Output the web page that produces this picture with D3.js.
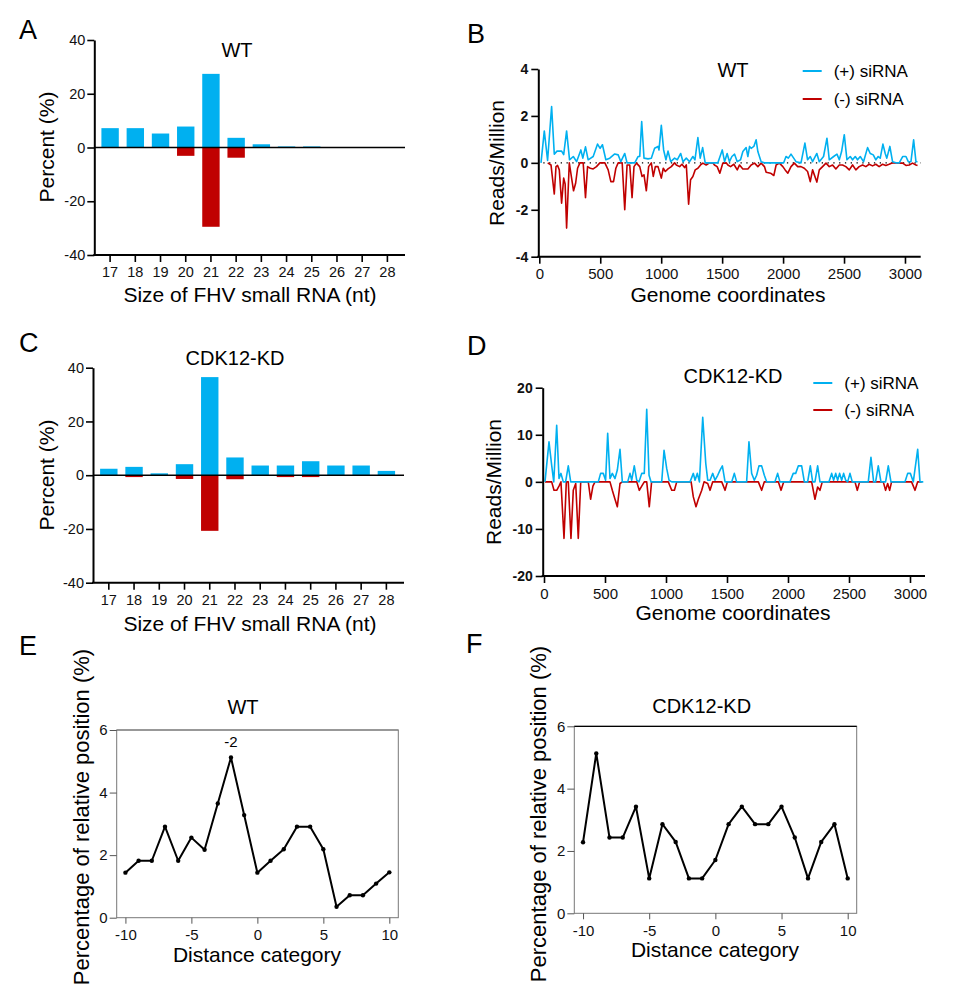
<!DOCTYPE html>
<html>
<head>
<meta charset="utf-8">
<script src="https://cdn.jsdelivr.net/npm/d3@7"></script>
<style>
  body { margin: 0; background: #fff; }
  svg { font-family: "Liberation Sans", Arial, Helvetica, sans-serif; }
</style>
</head>
<body>
<svg id="fig" width="973" height="1000"></svg>
<script>
// ---- data ----
const sizes = [17, 18, 19, 20, 21, 22, 23, 24, 25, 26, 27, 28];
const wtPlus = [7.2, 7.2, 5.2, 7.8, 27.4, 3.6, 1.2, 0.4, 0.4, 0, 0, 0];
const wtMinus = [0, 0, 0, -3.1, -29.5, -3.8, 0, 0, 0, 0, 0, 0];
const kdPlus = [2.4, 3.1, 0.7, 4.1, 36.5, 6.6, 3.6, 3.6, 5.2, 3.6, 3.6, 1.6];
const kdMinus = [0, -0.7, 0, -1.4, -20.7, -1.5, 0, -0.7, -0.7, 0, 0, 0];
const percentTicks = [-40, -20, 0, 20, 40];

// [genome coordinate, reads/million]
const wtCovPlus = [[14,0],[41,1.36],[68,0.1],[101,2.4],[123,0.37],[145,0.5],[183,0.5],[200,0.35],[224,1.36],[248,0.13],[279,0.27],[306,0.05],[341,0.55],[357,0.2],[379,0.68],[401,0.13],[442,0.27],[478,0.8],[499,0.62],[518,0.77],[546,0.13],[578,0.2],[619,0.38],[647,0.34],[669,0.05],[701,0.4],[720,0],[783,0],[810,0.27],[824,0.27],[840,1.76],[859,0.2],[892,0.17],[919,0.2],[946,0.62],[974,0.7],[982,0.55],[1001,1.6],[1020,0.55],[1039,0.13],[1056,0.5],[1078,0.05],[1110,0.2],[1132,0.13],[1160,0.4],[1179,0.05],[1206,0.2],[1233,0.05],[1260,0.27],[1277,0.13],[1301,1.08],[1320,0.2],[1340,0.65],[1361,0],[1465,0],[1501,0.55],[1520,0.05],[1541,0.4],[1560,0.05],[1580,0.27],[1602,0.37],[1624,0.05],[1651,0.13],[1670,0.48],[1697,0.65],[1711,0.27],[1725,0.7],[1738,0.62],[1760,0.7],[1779,0.98],[1793,0.48],[1820,0.05],[1847,0],[2005,0],[2024,0.27],[2043,0.2],[2065,0.37],[2087,0.2],[2106,0.05],[2147,0],[2179,0.84],[2201,0.13],[2223,0.27],[2242,0.05],[2277,0.4],[2297,0.05],[2332,0.27],[2360,1.05],[2379,0.13],[2415,0.27],[2442,0.37],[2461,0.13],[2480,0.48],[2502,1.2],[2524,0.13],[2551,0.27],[2570,0.13],[2592,0.27],[2611,0.13],[2633,0.27],[2660,0.05],[2693,0.65],[2715,0.4],[2740,0.34],[2761,0.13],[2780,0.27],[2797,0.2],[2819,0.8],[2838,0.4],[2851,0.2],[2876,0.7],[2898,0.05],[2925,0],[2953,0],[2981,0.27],[3008,0.27],[3027,0.05],[3049,0.05],[3071,0.98],[3090,0.05],[3103,0.05]];
const wtCovMinus = [[69,0],[96,-0.09],[123,-1.33],[137,-0.16],[150,-0.11],[164,-0.3],[183,-1.72],[200,-0.65],[212,-0.9],[224,-2.78],[246,0],[265,-0.65],[281,-1.19],[298,-0.87],[314,-0.23],[333,0],[360,0],[379,-1.48],[396,-0.16],[418,-0.23],[442,-0.26],[469,-0.16],[497,0],[538,0],[565,-0.3],[587,-0.8],[609,-0.8],[628,-0.23],[647,0],[680,0],[701,-2.0],[720,-0.09],[742,-0.09],[761,-1.48],[777,-0.16],[797,-0.01],[824,-0.16],[843,-0.58],[859,-0.51],[878,-1.19],[897,-0.16],[919,0],[935,-0.58],[952,-0.16],[974,-0.16],[1001,-0.65],[1017,-0.23],[1034,-0.37],[1056,-0.26],[1083,-0.16],[1110,0],[1124,-0.09],[1151,-0.16],[1170,-0.06],[1192,-0.2],[1206,-0.09],[1225,-1.76],[1241,-0.72],[1260,-0.58],[1279,-0.3],[1301,-0.23],[1323,-0.09],[1342,-0.01],[1369,-0.09],[1396,0],[1424,0],[1437,-0.09],[1459,-0.16],[1481,-0.44],[1506,-0.01],[1533,0],[1547,-0.09],[1569,-0.16],[1596,-0.06],[1624,-0.3],[1643,-0.09],[1670,-0.26],[1711,-0.26],[1738,-0.09],[1766,-0.01],[1793,-0.16],[1820,-0.01],[1847,-0.16],[1861,-0.4],[1897,-0.44],[1924,-0.54],[1943,-0.09],[1970,-0.01],[1998,-0.16],[2017,-0.3],[2039,-0.44],[2065,-0.16],[2092,-0.01],[2120,-0.16],[2147,-0.16],[2174,-0.23],[2201,-0.37],[2223,-0.8],[2242,-0.3],[2277,-0.82],[2297,-0.3],[2324,-0.16],[2352,-0.01],[2379,-0.16],[2406,-0.09],[2433,-0.26],[2461,-0.09],[2488,-0.09],[2515,-0.16],[2543,-0.3],[2570,-0.09],[2597,-0.3],[2624,-0.16],[2652,-0.09],[2679,-0.16],[2706,-0.06],[2734,-0.13],[2761,-0.06],[2788,-0.16],[2816,-0.06],[2843,-0.11],[2870,-0.06],[2898,0],[2981,-0.01],[3008,-0.11],[3035,-0.09],[3062,-0.01],[3090,-0.09],[3103,-0.11]];

const kdCovPlus = [[8,0],[41,8.5],[63,3.5],[80,0],[104,12.0],[123,0.7],[139,1.8],[158,0],[177,0],[199,3.4],[219,0],[445,0],[464,1.8],[486,1.8],[505,0.35],[522,10.3],[541,0.7],[560,1.8],[582,0.7],[601,2.5],[623,6.9],[642,0],[686,0],[705,1.8],[719,0.35],[740,3.4],[760,0.35],[779,0],[801,1.8],[822,1.8],[842,15.4],[861,1.4],[877,0],[965,0],[984,6.7],[1006,2.8],[1025,0.35],[1047,0],[1197,0],[1224,1.8],[1238,0.35],[1257,1.8],[1274,0],[1301,13.7],[1326,3.9],[1342,0.35],[1361,0.35],[1383,1.8],[1402,0.35],[1424,1.4],[1443,2.5],[1462,3.4],[1484,0],[1539,0],[1560,1.8],[1579,0],[1661,0],[1680,8.5],[1702,1.8],[1724,0.35],[1743,1.4],[1762,3.4],[1784,3.4],[1806,1.4],[1825,0],[1893,0],[1915,1.8],[1934,0],[2016,0],[2043,1.8],[2063,1.8],[2085,3.4],[2112,3.4],[2134,0],[2161,0],[2183,3.4],[2202,0],[2221,0],[2243,3.4],[2262,0],[2336,0],[2358,1.8],[2374,0.35],[2391,1.8],[2407,0.35],[2423,1.8],[2440,0.35],[2456,1.8],[2473,0.35],[2489,0],[2508,1.8],[2527,0],[2658,0],[2680,5.2],[2702,0],[2718,0],[2740,3.4],[2762,0],[2800,0],[2822,3.4],[2844,0],[2959,0],[2981,1.8],[3003,1.8],[3027,0],[3063,6.9],[3082,0],[3109,0]];
const kdCovMinus = [[8,0],[63,0],[82,-1.8],[104,-1.8],[123,-0.9],[139,0],[164,-12.0],[183,0],[199,0],[221,-12.0],[240,-1.8],[260,-0.35],[281,-12.0],[301,0],[363,0],[382,-3.7],[401,-0.9],[418,0],[541,0],[560,-1.8],[582,-3.7],[601,-5.3],[623,-0.35],[642,0],[760,0],[781,-1.8],[801,-0.9],[822,0],[842,0],[863,-5.3],[882,0],[1019,0],[1047,-1.8],[1069,-1.8],[1088,0],[1206,0],[1224,-3.2],[1246,-5.3],[1265,-3.7],[1293,-1.8],[1312,0],[1342,-0.35],[1361,-1.8],[1383,0],[1457,0],[1484,-1.8],[1503,0],[1757,0],[1784,-1.8],[1806,0],[1921,0],[1943,-1.8],[1965,0],[2194,0],[2221,-3.7],[2243,-1.1],[2262,-1.8],[2281,0],[2549,0],[2568,-1.8],[2587,0],[2781,0],[2800,-1.8],[2817,-0.35],[2833,-1.8],[2849,0],[3013,0],[3041,-1.8],[3063,0],[3096,0]];
const genomeTicks = [0, 500, 1000, 1500, 2000, 2500, 3000];
const wtCovTicks = [-4, -2, 0, 2, 4];
const kdCovTicks = [-20, -10, 0, 10, 20];

const distances = [-10, -9, -8, -7, -6, -5, -4, -3, -2, -1, 0, 1, 2, 3, 4, 5, 6, 7, 8, 9, 10];
const wtDist = [1.44, 1.82, 1.82, 2.91, 1.82, 2.56, 2.17, 3.65, 5.12, 3.28, 1.44, 1.82, 2.19, 2.91, 2.91, 2.19, 0.35, 0.72, 0.72, 1.09, 1.45];
const kdDist = [2.28, 5.13, 2.43, 2.43, 3.42, 1.12, 2.86, 2.29, 1.12, 1.12, 1.71, 2.86, 3.42, 2.86, 2.86, 3.42, 2.43, 1.12, 2.29, 2.86, 1.12];
const distXTicks = [-10, -5, 0, 5, 10];
const distYTicks = [0, 2, 4, 6];

const BLUE = '#00b0f0';
const RED = '#c00000';
const FONT = '"Liberation Sans", Arial, Helvetica, sans-serif';
const plain = d => String(d);   // hyphen minus, like the original

const svg = d3.select('#fig');

function letter(t, x, y) {
    svg.append('text').attr('x', x).attr('y', y).attr('font-size', 27).text(t);
}

function styleAxis(ax, size, weight) {
    ax.attr('font-family', FONT).attr('font-size', size);
    ax.selectAll('text').attr('fill', '#111').attr('font-weight', weight || 'normal');
}

function rotatedTitle(t, cx, cy, size) {
    svg.append('text')
        .attr('transform', `translate(${cx},${cy}) rotate(-90)`)
        .attr('text-anchor', 'middle')
        .attr('dy', '0.35em')
        .attr('font-size', size)
        .text(t);
}

function centered(t, x, y, size) {
    svg.append('text').attr('x', x).attr('y', y).attr('text-anchor', 'middle').attr('font-size', size).text(t);
}

// ---- A / C : size distribution bars ----
function drawSizePanel(box, plus, minus) {
    let g = svg.append('g');
    let x = d3.scaleBand().domain(sizes).range([box.left + 3.2, box.right - 5])
        .paddingInner(0.31).paddingOuter(0.155);
    let y = d3.scaleLinear().domain([-40, 40]).range([box.bottom, box.top]);

    let rows = sizes.map((s, i) => ({ size: s, plus: plus[i], minus: minus[i] }));

    g.selectAll('.bar-plus').data(rows).enter().append('rect')
        .attr('x', d => x(d.size))
        .attr('width', x.bandwidth())
        .attr('y', d => y(d.plus))
        .attr('height', d => y(0) - y(d.plus))
        .attr('fill', BLUE);

    g.selectAll('.bar-minus').data(rows).enter().append('rect')
        .attr('x', d => x(d.size))
        .attr('width', x.bandwidth())
        .attr('y', y(0))
        .attr('height', d => y(d.minus) - y(0))
        .attr('fill', RED);

    g.append('line')
        .attr('x1', box.left).attr('x2', box.right)
        .attr('y1', y(0)).attr('y2', y(0))
        .attr('stroke', '#000').attr('stroke-width', 1.6);

    let yAxis = g.append('g')
        .attr('transform', `translate(${box.left},0)`)
        .call(d3.axisLeft(y).tickValues(percentTicks).tickFormat(plain).tickSize(7).tickSizeOuter(0).tickPadding(2));
    yAxis.select('.domain').attr('stroke-width', 2);
    yAxis.selectAll('.tick line').attr('stroke-width', 1.6);
    styleAxis(yAxis, 14.5);

    let xAxis = g.append('g')
        .attr('transform', `translate(0,${box.bottom})`)
        .call(d3.axisBottom(x).tickSize(7).tickPadding(5));
    xAxis.select('.domain').remove();
    xAxis.selectAll('.tick line').attr('stroke-width', 1.6);
    styleAxis(xAxis, 14.5);

    g.append('line')
        .attr('x1', box.left - 1).attr('x2', box.right)
        .attr('y1', box.bottom).attr('y2', box.bottom)
        .attr('stroke', '#000').attr('stroke-width', 2);
}

// ---- B / D : coverage along the genome ----
function drawCoverage(box, plus, minus, yMax, yTicks, dotted) {
    let g = svg.append('g');
    let x = d3.scaleLinear().domain([0, box.xMax]).range([box.x0, box.right]);
    let y = d3.scaleLinear().domain([-yMax, yMax]).range([box.bottom, box.top]);

    if (dotted) {
        g.append('line')
            .attr('x1', x(0) + 4).attr('x2', box.right)
            .attr('y1', y(0)).attr('y2', y(0))
            .attr('stroke', '#000').attr('stroke-width', 1.3)
            .attr('stroke-dasharray', '1.3,4.5');
    }

    let line = d3.line().x(d => x(d[0])).y(d => y(d[1]));

    g.append('path').datum(minus).attr('d', line)
        .attr('fill', 'none').attr('stroke', RED).attr('stroke-width', 1.6).attr('stroke-linejoin', 'round');
    g.append('path').datum(plus).attr('d', line)
        .attr('fill', 'none').attr('stroke', BLUE).attr('stroke-width', 1.6).attr('stroke-linejoin', 'round');

    let yAxis = g.append('g')
        .attr('transform', `translate(${box.left},0)`)
        .call(d3.axisLeft(y).tickValues(yTicks).tickFormat(plain).tickSize(7).tickSizeOuter(0).tickPadding(3));
    yAxis.select('.domain').attr('stroke-width', 2);
    yAxis.selectAll('.tick line').attr('stroke-width', 1.6);
    styleAxis(yAxis, 14, 'bold');

    let xAxis = g.append('g')
        .attr('transform', `translate(0,${box.bottom})`)
        .call(d3.axisBottom(x).tickValues(genomeTicks).tickFormat(plain).tickSize(7).tickPadding(5));
    xAxis.select('.domain').remove();
    xAxis.selectAll('.tick line').attr('stroke-width', 1.6);
    styleAxis(xAxis, 15);

    g.append('line')
        .attr('x1', box.left - 1).attr('x2', box.right)
        .attr('y1', box.bottom).attr('y2', box.bottom)
        .attr('stroke', '#000').attr('stroke-width', 2);
}

function legend(x, y, gap) {
    [['(+) siRNA', BLUE], ['(-) siRNA', RED]].forEach((it, i) => {
        let yy = y + i * gap;
        svg.append('line')
            .attr('x1', x).attr('x2', x + 19)
            .attr('y1', yy).attr('y2', yy)
            .attr('stroke', it[1]).attr('stroke-width', 2);
        svg.append('text')
            .attr('x', x + 31).attr('y', yy + 6)
            .attr('font-size', 17)
            .text(it[0]);
    });
}

// ---- E / F : distance category lines ----
function drawDistance(box, values, topColor) {
    let g = svg.append('g');
    let x = d3.scaleLinear().domain([-10.66, 10.68]).range([box.left, box.right]);
    let y = d3.scaleLinear().domain([0, 6]).range([box.bottom, box.top]);

    g.append('rect')
        .attr('x', box.left).attr('y', box.top)
        .attr('width', box.right - box.left).attr('height', box.bottom - box.top)
        .attr('fill', 'none').attr('stroke', '#777').attr('stroke-width', 1);
    g.append('line')
        .attr('x1', box.left).attr('x2', box.right)
        .attr('y1', box.top).attr('y2', box.top)
        .attr('stroke', topColor).attr('stroke-width', 1.2);

    let yAxis = g.append('g')
        .attr('transform', `translate(${box.left},0)`)
        .call(d3.axisLeft(y).tickValues(distYTicks).tickFormat(plain).tickSize(7).tickPadding(2));
    yAxis.select('.domain').remove();
    yAxis.selectAll('.tick line').attr('stroke', '#555');
    styleAxis(yAxis, 15);

    let xAxis = g.append('g')
        .attr('transform', `translate(0,${box.bottom})`)
        .call(d3.axisBottom(x).tickValues(distXTicks).tickFormat(plain).tickSize(6).tickPadding(6));
    xAxis.select('.domain').remove();
    xAxis.selectAll('.tick line').attr('stroke', '#555');
    styleAxis(xAxis, 15);

    let pts = distances.map((d, i) => [d, values[i]]);
    g.append('path').datum(pts)
        .attr('d', d3.line().x(d => x(d[0])).y(d => y(d[1])))
        .attr('fill', 'none').attr('stroke', '#000').attr('stroke-width', 2).attr('stroke-linejoin', 'round');
    g.selectAll('circle').data(pts).enter().append('circle')
        .attr('cx', d => x(d[0])).attr('cy', d => y(d[1]))
        .attr('r', 2.2).attr('fill', '#000');
    return { x, y };
}

// Panel A
letter('A', 19, 39);
drawSizePanel({ left: 94.3, right: 405, top: 40, bottom: 255 }, wtPlus, wtMinus);
centered('WT', 237, 57, 20);
centered('Size of FHV small RNA (nt)', 250, 302, 21);
rotatedTitle('Percent (%)', 47, 147, 21);

// Panel B
letter('B', 467, 43);
drawCoverage({ left: 538.3, x0: 539.3, right: 920.7, xMax: 3129, top: 69, bottom: 256.7 },
    wtCovPlus, wtCovMinus, 4, wtCovTicks, true);
centered('WT', 733, 77, 20);
legend(802.7, 71, 28);
centered('Genome coordinates', 728, 302, 21);
rotatedTitle('Reads/Million', 497, 163, 21);

// Panel C
letter('C', 19, 352);
drawSizePanel({ left: 93, right: 404, top: 367.7, bottom: 582.7 }, kdPlus, kdMinus);
centered('CDK12-KD', 235, 365, 20);
centered('Size of FHV small RNA (nt)', 250, 631, 21);
rotatedTitle('Percent (%)', 47, 475, 21);

// Panel D
letter('D', 467, 355);
drawCoverage({ left: 542.7, x0: 544, right: 925, xMax: 3123, top: 387.7, bottom: 576 },
    kdCovPlus, kdCovMinus, 20, kdCovTicks, false);
centered('CDK12-KD', 733, 383, 20);
legend(813.3, 383, 27);
centered('Genome coordinates', 733, 620, 21);
rotatedTitle('Reads/Million', 494, 482, 21);

// Panel E
letter('E', 19, 655);
let e = drawDistance({ left: 116.7, right: 398.3, top: 730, bottom: 917.7 }, wtDist, '#777');
centered('-2', e.x(-2), 747, 15);
centered('WT', 243, 714, 20);
centered('Distance category', 257, 962, 21);
rotatedTitle('Percentage of relative position (%)', 81.7, 817, 22);

// Panel F
letter('F', 466, 653);
drawDistance({ left: 574.3, right: 856.7, top: 726.3, bottom: 913.3 }, kdDist, '#000');
centered('CDK12-KD', 701.7, 713, 20);
centered('Distance category', 715, 957, 21);
rotatedTitle('Percentage of relative position (%)', 538, 814, 22);
</script>
</body>
</html>
